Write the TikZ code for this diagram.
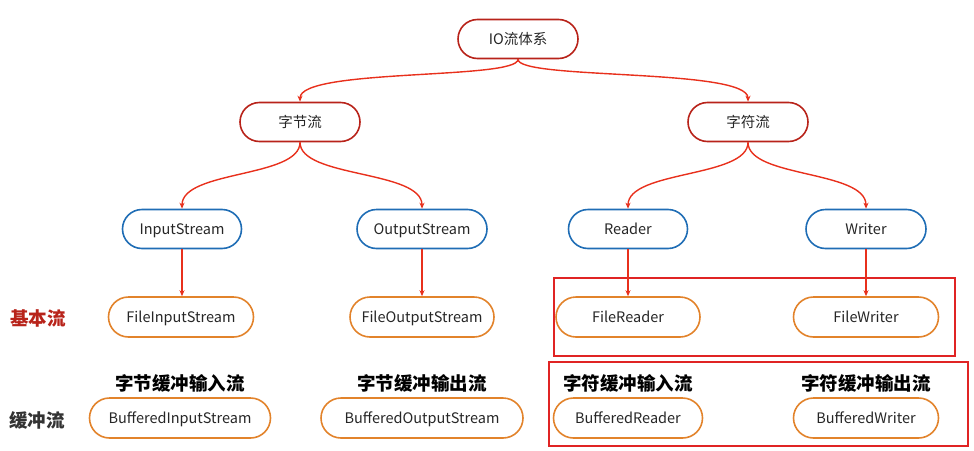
\documentclass[tikz,border=0pt]{standalone}
\usepackage{fontspec}
\setmainfont{Noto Sans CJK SC}[BoldFont={Noto Sans CJK SC Black}]
\usetikzlibrary{arrows.meta}
\definecolor{topred}{HTML}{B8231A}
\definecolor{nblue}{HTML}{1F6DB5}
\definecolor{norange}{HTML}{E2832B}
\definecolor{arrred}{HTML}{E8301C}
\definecolor{boxred}{HTML}{E02424}
\definecolor{lblgray}{HTML}{333333}
\tikzset{
  x=1pt,y=-1pt,
  pill/.style={draw, line width=1.6pt, rounded corners=19.5pt, minimum height=39pt, inner sep=0pt, text height=1.0em, text depth=0em, font=\fontsize{14.5}{16}\selectfont, text=black!85},
  rednode/.style={pill, draw=topred},
  bluenode/.style={pill, draw=nblue},
  orangenode/.style={pill, draw=norange, minimum height=40pt, rounded corners=20pt},
  arr/.style={draw=arrred, line width=1.4pt, -{Stealth[length=6pt,width=5pt]}},
  boldlbl/.style={font=\fontsize{18.5}{20}\selectfont\bfseries, text=black},
  redbox/.style={draw=boxred, line width=1.5pt},
}
\begin{document}
\begin{tikzpicture}
\useasboundingbox (0,0) rectangle (974,450);
% top levels
\node[rednode, minimum width=120pt] (io) at (518,39) {IO流体系};
\node[rednode, minimum width=120pt] (byte) at (300,122) {字节流};
\node[rednode, minimum width=120pt] (char) at (748,122) {字符流};
% abstract
\node[bluenode, minimum width=119pt] (is) at (182,229) {InputStream};
\node[bluenode, minimum width=130pt] (os) at (422,229) {OutputStream};
\node[bluenode, minimum width=119pt] (rd) at (628,229) {Reader};
\node[bluenode, minimum width=120pt] (wr) at (866,229) {Writer};
% basic
\node[orangenode, minimum width=145pt] (fis) at (181,317) {FileInputStream};
\node[orangenode, minimum width=144pt] (fos) at (422,317) {FileOutputStream};
\node[orangenode, minimum width=144pt] (frd) at (628,317) {FileReader};
\node[orangenode, minimum width=145pt] (fwr) at (866,317) {FileWriter};
% buffered
\node[orangenode, minimum width=181pt] (bis) at (180,418) {BufferedInputStream};
\node[orangenode, minimum width=202pt] (bos) at (422,418) {BufferedOutputStream};
\node[orangenode, minimum width=149pt] (brd) at (628,418) {BufferedReader};
\node[orangenode, minimum width=145pt] (bwr) at (866,418) {BufferedWriter};
% labels
\node[boldlbl] (l1) at (180,383) {字节缓冲输入流};
\node[boldlbl] (l2) at (422,383) {字节缓冲输出流};
\node[boldlbl] (l3) at (628,383) {字符缓冲输入流};
\node[boldlbl] (l4) at (866,383) {字符缓冲输出流};
\node[boldlbl, text=topred] (basic) at (38,318) {基本流};
\node[boldlbl, text=lblgray] (buf) at (37,420) {缓冲流};
% red boxes
\draw[redbox] (554,278) rectangle (955,356);
\draw[redbox] (549,362) rectangle (968,446);
% curved connectors
\draw[arr] (io.south) .. controls (518,80) and (300,68) .. (byte.north);
\draw[arr] (io.south) .. controls (518,80) and (748,68) .. (char.north);
\draw[arr] (byte.south) .. controls (300,178) and (182,170) .. (is.north);
\draw[arr] (byte.south) .. controls (300,178) and (422,170) .. (os.north);
\draw[arr] (char.south) .. controls (748,178) and (628,170) .. (rd.north);
\draw[arr] (char.south) .. controls (748,178) and (866,170) .. (wr.north);
% straight connectors
\draw[arr] (is.south) -- (is.south |- fis.north);
\draw[arr] (os.south) -- (os.south |- fos.north);
\draw[arr] (rd.south) -- (rd.south |- frd.north);
\draw[arr] (wr.south) -- (wr.south |- fwr.north);
\end{tikzpicture}
\end{document}
